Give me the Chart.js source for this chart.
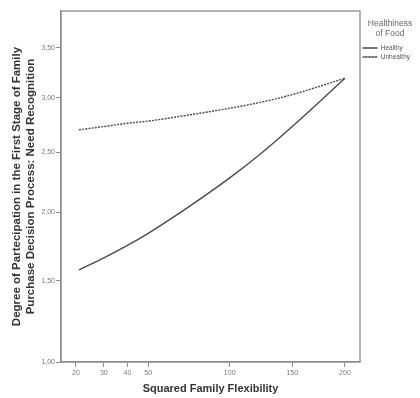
<!DOCTYPE html>
<html><head><meta charset="utf-8">
<script src="https://cdn.jsdelivr.net/npm/chart.js@4.4.0/dist/chart.umd.min.js"></script>
<style>html,body{margin:0;padding:0;background:#fff;}</style>
</head><body>
<canvas id="c" width="420" height="398" style="width:420px;height:398px;display:block"></canvas>
<script>
// ---- data ----
const familyFlexibility = [21, 30, 40, 50, 70, 100, 125, 150, 200];
const healthyValues     = [1.575, 1.66, 1.75, 1.84, 2.02, 2.28, 2.50, 2.73, 3.19];
const unhealthyValues   = [2.70, 2.73, 2.76, 2.78, 2.83, 2.90, 2.96, 3.03, 3.19];
const xTickValues = [20, 30, 40, 50, 100, 150, 200];
const yTickValues = [1.00, 1.50, 2.00, 2.50, 3.00, 3.50];
const seriesNames = ['Healthy', 'Unhealthy'];
const legendTitle = ['Healthiness', 'of Food'];
const xTitle = 'Squared Family Flexibility';
const yTitle = ['Degree of Partecipation in the First Stage of Family', 'Purchase Decision Process: Need Recognition'];

// square-root scale (both axes of the reference are sqrt-spaced)
class SqrtScale extends Chart.LinearScale {
  getPixelForValue(value) {
    const a = Math.sqrt(this.min), b = Math.sqrt(this.max);
    return this.getPixelForDecimal((Math.sqrt(Math.max(value, 0)) - a) / (b - a));
  }
  getValueForPixel(pixel) {
    const a = Math.sqrt(this.min), b = Math.sqrt(this.max);
    const s = a + this.getDecimalForPixel(pixel) * (b - a);
    return s * s;
  }
}
SqrtScale.id = 'sqrt';
SqrtScale.defaults = Chart.LinearScale.defaults;
Chart.register(SqrtScale);

const toPts = vals => familyFlexibility.map((x, i) => ({x: x, y: vals[i]}));

const framePlugin = {
  id: 'frame',
  beforeLayout(chart) {
    const lg = chart.legend;
    if (lg && !lg._wPatched) {
      const f = lg.fit.bind(lg);
      lg.fit = function () { f(); this.width = 60; };
      lg._wPatched = true;
    }
  },
  afterDatasetsDraw(chart) {
    const {ctx, chartArea: a} = chart;
    ctx.save();
    ctx.strokeStyle = '#8c8c8c';
    ctx.lineWidth = 1.3;
    ctx.strokeRect(a.left, a.top, a.right - a.left, a.bottom - a.top);
    ctx.restore();
  }
};

const lineColor = '#4a4a4a';
new Chart(document.getElementById('c'), {
  type: 'scatter',
  data: {
    datasets: [
      { label: seriesNames[0], data: toPts(healthyValues), showLine: true, pointRadius: 0,
        borderColor: lineColor, backgroundColor: 'rgba(0,0,0,0)', borderWidth: 1.4,
        cubicInterpolationMode: 'monotone' },
      { label: seriesNames[1], data: toPts(unhealthyValues), showLine: true, pointRadius: 0,
        borderColor: lineColor, backgroundColor: 'rgba(0,0,0,0)', borderWidth: 1.4, borderDash: [2, 1.2],
        cubicInterpolationMode: 'monotone' }
    ]
  },
  options: {
    responsive: false,
    animation: false,
    devicePixelRatio: 1,
    layout: { padding: { top: 11, left: 0, right: 0, bottom: 0 } },
    plugins: {
      tooltip: { enabled: false },
      legend: {
        position: 'right',
        align: 'start',
        fullSize: false,
        title: { display: true, text: legendTitle, color: '#666',
                 font: { family: 'Liberation Sans, Arial', size: 8.5 },
                 padding: { top: 8, bottom: 13 } },
        labels: {
          usePointStyle: false, boxWidth: 15, boxHeight: 0, padding: 2.5, color: '#555',
          font: { family: 'Liberation Sans, Arial', size: 6.5 }
        }
      }
    },
    scales: {
      x: {
        type: 'sqrt', min: 15.5, max: 215.6, bounds: 'data',
        afterBuildTicks: s => { s.ticks = xTickValues.map(v => ({value: v})); },
        afterFit: s => { s.height = 36; },
        grid: { drawOnChartArea: false, drawTicks: true, tickLength: 5, color: '#8c8c8c' },
        border: { display: true, color: '#8c8c8c', width: 1.3 },
        ticks: { color: '#777', font: { family: 'Liberation Sans, Arial', size: 7 }, padding: 2,
                 maxRotation: 0, autoSkip: false,
                 callback: (v, i, t) => String(t[i].value) },
        title: { display: true, text: xTitle, color: '#333',
                 font: { family: 'Liberation Sans, Arial', size: 11, weight: 'bold' },
                 padding: { top: 0, bottom: 2 } }
      },
      y: {
        type: 'sqrt', min: 1, max: 3.89, bounds: 'data',
        afterBuildTicks: s => { s.ticks = yTickValues.map(v => ({value: v})); },
        afterFit: s => { s.width = 61; },
        grid: { drawOnChartArea: false, drawTicks: true, tickLength: 5, color: '#8c8c8c' },
        border: { display: true, color: '#8c8c8c', width: 1.3 },
        ticks: { color: '#777', font: { family: 'Liberation Sans, Arial', size: 7 }, padding: 1,
                 autoSkip: false,
                 callback: (v, i, t) => t[i].value.toFixed(2).replace('.', ',') },
        title: { display: true, text: yTitle, color: '#333',
                 font: { family: 'Liberation Sans, Arial', size: 11.5, weight: 'bold' },
                 padding: { top: 10, bottom: 0 } }
      }
    }
  },
  plugins: [framePlugin]
});
</script>
</body></html>
